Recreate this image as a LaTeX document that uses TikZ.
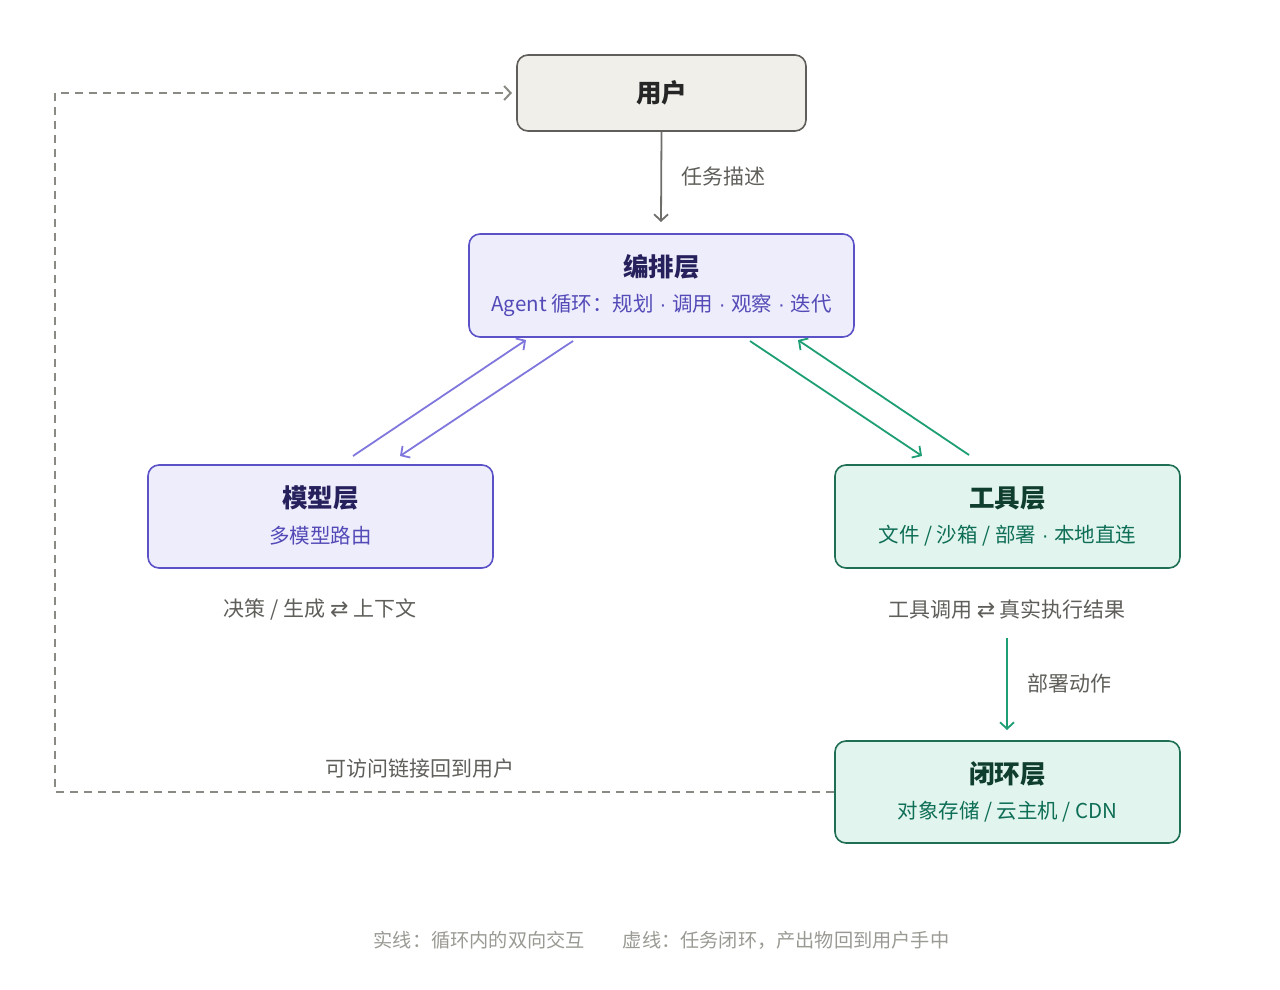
\documentclass[tikz,border=0pt]{standalone}
\usepackage{fontspec}
\setmainfont{Noto Sans CJK SC}
\newfontfamily\symfont{DejaVu Sans}
\newfontfamily\latfont{Liberation Sans}
\usetikzlibrary{arrows.meta}
\definecolor{usrfill}{HTML}{F0EFEA}
\definecolor{usrdraw}{HTML}{5F5E5A}
\definecolor{pfill}{HTML}{EEEDFC}
\definecolor{pdraw}{HTML}{5B52C8}
\definecolor{ptitle}{HTML}{26215C}
\definecolor{psub}{HTML}{534AB7}
\definecolor{parrow}{HTML}{7F77DD}
\definecolor{gfill}{HTML}{E1F5EE}
\definecolor{gdraw}{HTML}{1F6F55}
\definecolor{gtitle}{HTML}{0F3D2E}
\definecolor{gsub}{HTML}{0F6E56}
\definecolor{garrow}{HTML}{1D9E75}
\definecolor{labgray}{HTML}{5F5E5A}
\definecolor{dashgray}{HTML}{8A8984}
\definecolor{footgray}{HTML}{9A9993}
\newcommand{\md}{{\latfont\ ·\ }}
\newcommand{\lr}{{\symfont\fontsize{22}{24}\selectfont ⇄}}
\tikzset{
  box/.style={rounded corners=11pt, line width=1.6pt, minimum height=103pt, align=center, inner sep=0pt},
  ttl/.style={font=\fontsize{25.5}{28}\selectfont\bfseries},
  sub/.style={font=\fontsize{20.5}{24}\selectfont},
  lab/.style={font=\fontsize{21}{24}\selectfont, text=labgray, inner sep=0pt},
  arr/.style={line width=1.8pt, -{Straight Barb[length=6.5pt,width=14pt,line width=1.8pt]}},
}
\begin{document}
\begin{tikzpicture}[x=1pt,y=-1pt]
\useasboundingbox (0,0) rectangle (1280,990);
% boxes
\node[box, fill=usrfill, draw=usrdraw, minimum width=289pt, minimum height=76pt, font=\fontsize{25.5}{28}\selectfont\bfseries, text=black!85] (user) at (661.5,93) {用户};
\node[box, fill=pfill, draw=pdraw, minimum width=385pt] (orch) at (661.5,285.5) {};
\node[ttl, text=ptitle] (orcht) at (661.5,267) {编排层};
\node[sub, text=psub] (orchs) at (661.5,305) {Agent 循环：规划\md 调用\md 观察\md 迭代};
\node[box, fill=pfill, draw=pdraw, minimum width=345pt] (model) at (320.5,516.5) {};
\node[ttl, text=ptitle] (modelt) at (320.5,498) {模型层};
\node[sub, text=psub] (models) at (320.5,536) {多模型路由};
\node[box, fill=gfill, draw=gdraw, minimum width=345pt] (tool) at (1007.5,516.5) {};
\node[ttl, text=gtitle] (toolt) at (1007.5,498) {工具层};
\node[sub, text=gsub] (tools) at (1007.5,536) {文件 / 沙箱 / 部署\md 本地直连};
\node[box, fill=gfill, draw=gdraw, minimum width=345pt, minimum height=102pt] (loop) at (1007.5,792) {};
\node[ttl, text=gtitle] (loopt) at (1007.5,774) {闭环层};
\node[sub, text=gsub] (loops) at (1007.5,812) {对象存储 / 云主机 / CDN};
% coordinates
\coordinate (ub) at (661,222);
\coordinate (p1a) at (353,456);
\coordinate (p1b) at (526,340);
\coordinate (p2a) at (573,341);
\coordinate (p2b) at (400,456);
\coordinate (g1a) at (750,341);
\coordinate (g1b) at (922,456);
\coordinate (g2a) at (969,455);
\coordinate (g2b) at (798,340);
\coordinate (ta) at (1007,638);
\coordinate (tb) at (1007,730);
\coordinate (d1) at (55,792);
\coordinate (d2) at (55,93);
\coordinate (d3) at (512,93);
% arrows
\draw[arr, draw=usrdraw!90] (user.south) -- (ub);
\draw[arr, draw=parrow] (p1a) -- (p1b);
\draw[arr, draw=parrow] (p2a) -- (p2b);
\draw[arr, draw=garrow] (g1a) -- (g1b);
\draw[arr, draw=garrow] (g2a) -- (g2b);
\draw[arr, draw=garrow] (ta) -- (tb);
\draw[line width=2pt, draw=dashgray, dash pattern=on 8pt off 6pt, -{Straight Barb[length=6.5pt,width=14pt,line width=2pt]}] (loop.west) -- (d1) -- (d2) -- (d3);
% labels
\node[lab, anchor=west] (l1) at (681,177) {任务描述};
\node[lab] (l2) at (320,609) {决策 / 生成 \lr{} 上下文};
\node[lab] (l3) at (1007,609) {工具调用 \lr{} 真实执行结果};
\node[lab, anchor=west] (l4) at (1027,683) {部署动作};
\node[lab] (l5) at (420,769) {可访问链接回到用户};
\node[font=\fontsize{19.2}{22}\selectfont, text=footgray, inner sep=0pt] (foot) at (661.5,940) {实线：循环内的双向交互\hspace{38pt}虚线：任务闭环，产出物回到用户手中};
\end{tikzpicture}
\end{document}
